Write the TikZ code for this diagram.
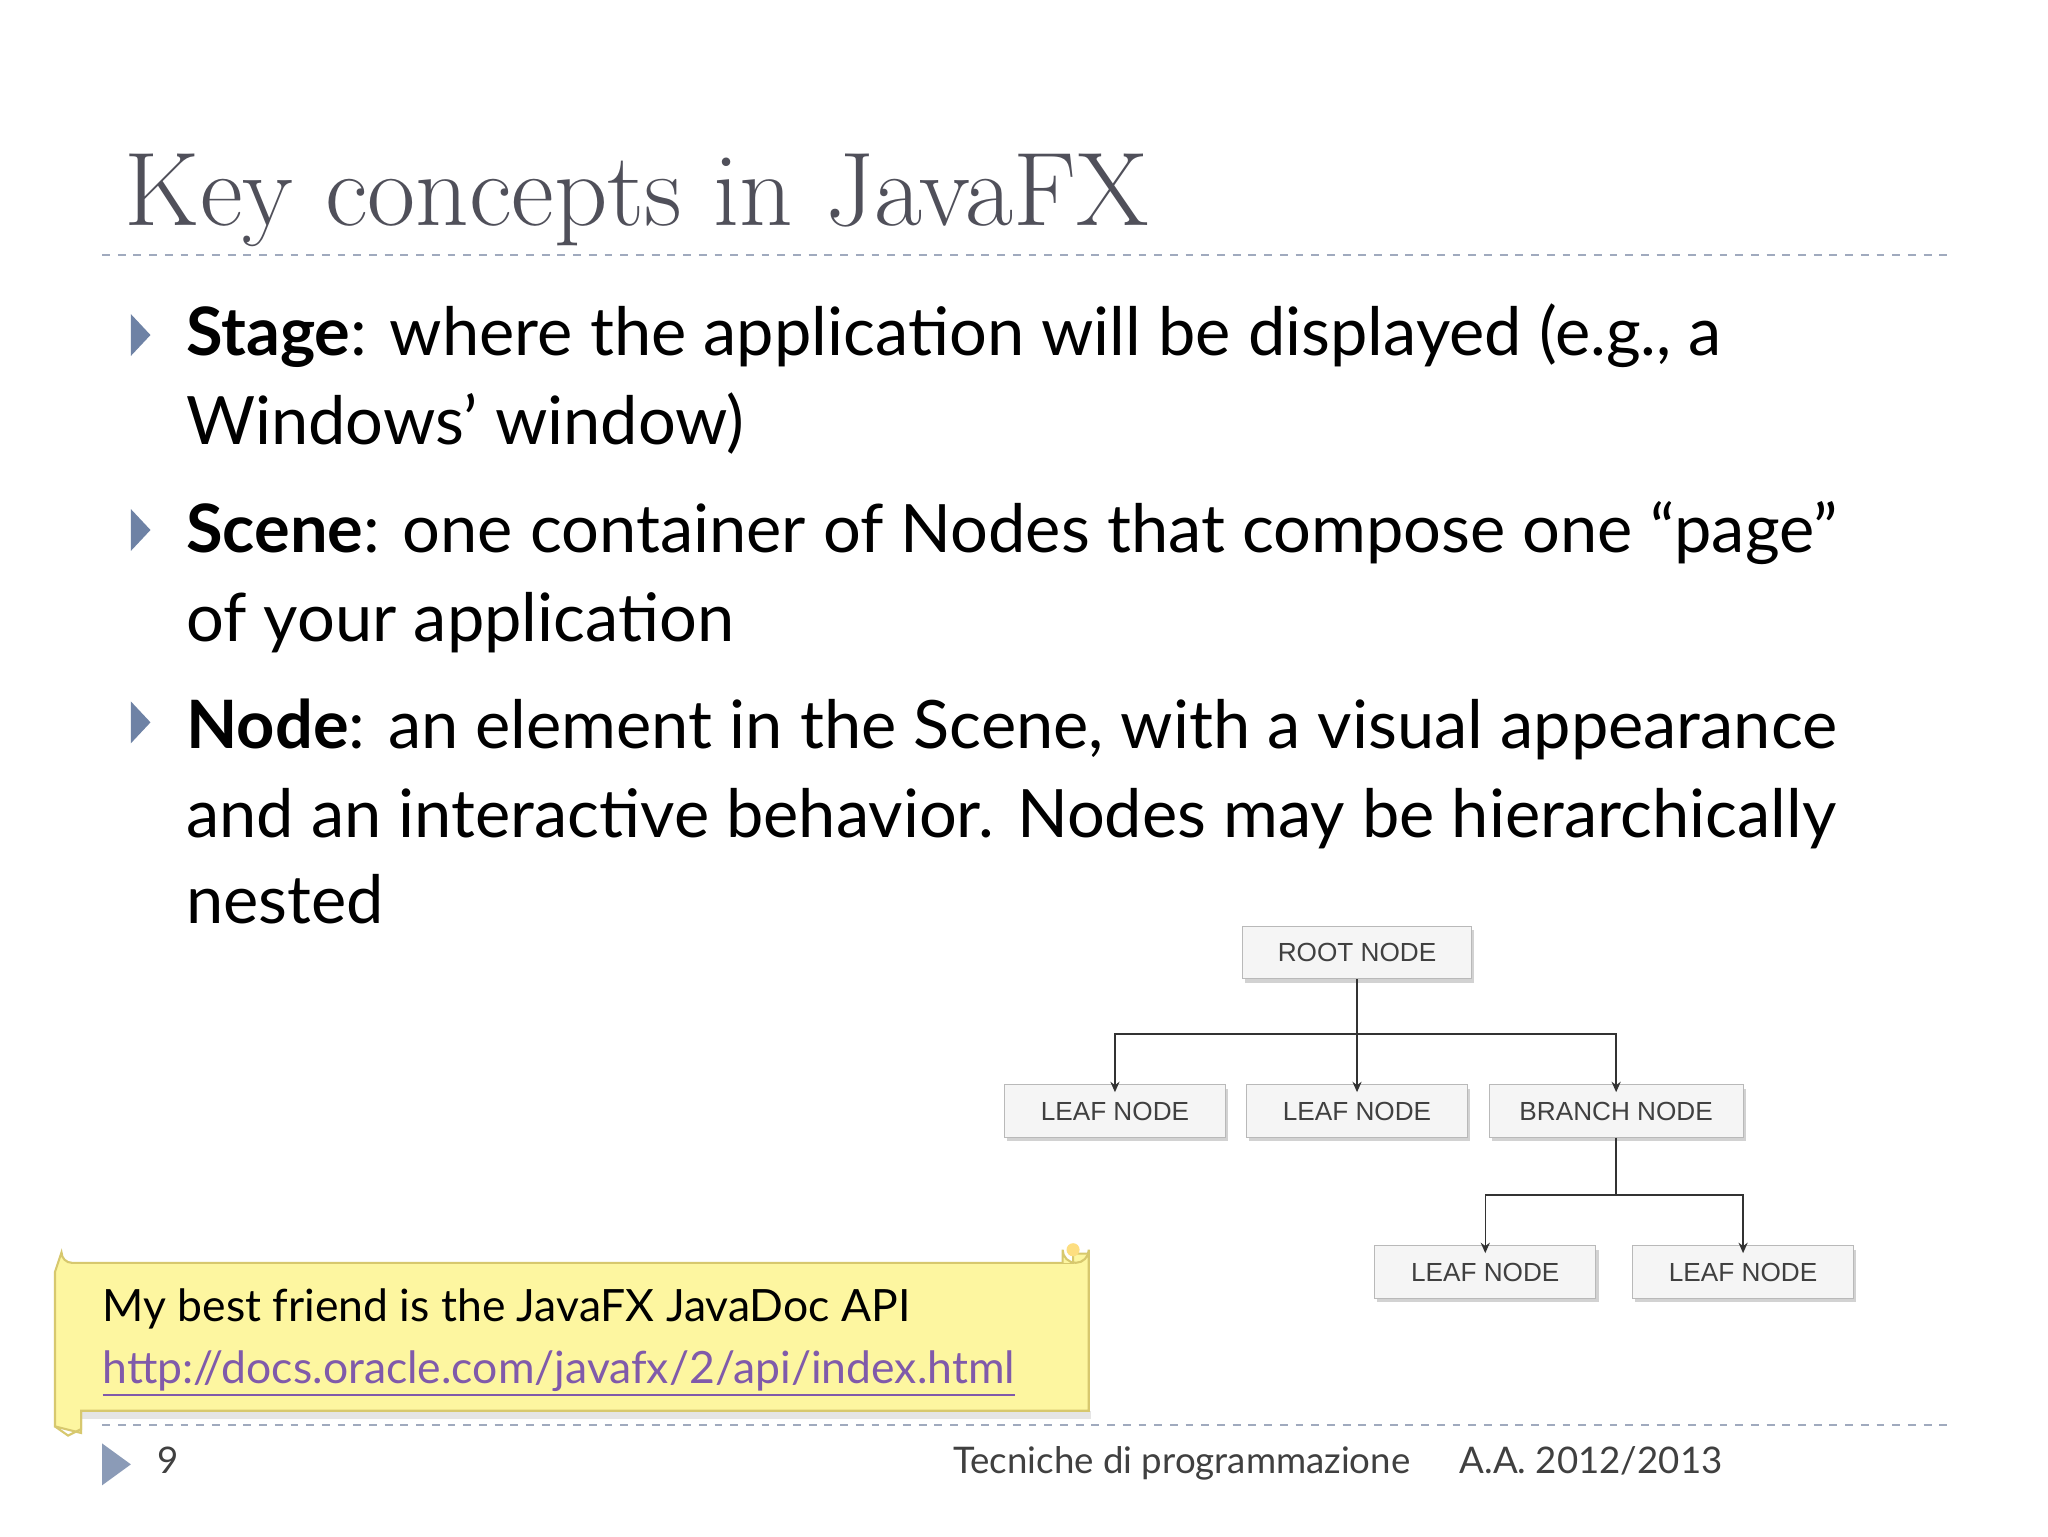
\documentclass[tikz,border=0pt]{standalone}
\usepackage{fontspec}
\setmainfont{Lato}
\newfontfamily\titlefont{Latin Modern Roman}
\newfontfamily\boxfont{Liberation Sans}
\usetikzlibrary{arrows.meta,shadows}
\definecolor{titlegray}{RGB}{80,80,90}
\definecolor{bullet}{RGB}{110,130,165}
\definecolor{dashc}{RGB}{160,170,190}
\definecolor{note}{RGB}{253,246,160}
\definecolor{noteedge}{RGB}{215,200,110}
\definecolor{link}{RGB}{128,90,170}
\begin{document}
\begin{tikzpicture}[x=0.5pt,y=-0.5pt,
  tnode/.style={draw=gray!55,fill=gray!8,minimum width=#1*0.5pt,minimum height=20pt,font=\boxfont\fontsize{10}{12}\selectfont,text=black!75,drop shadow={shadow xshift=1pt,shadow yshift=-1.5pt,fill=gray!50,opacity=0.7}},
  arr/.style={-{Stealth[length=4pt,width=3.5pt]},black!80,line width=0.6pt},
  ln/.style={black!80,line width=0.6pt},
  body/.style={anchor=base west,font=\fontsize{25.5}{30}\selectfont,inner sep=0},
  btri/.style={fill=bullet}]
\useasboundingbox (0,0) rectangle (1565,1174);
\fill[white] (0,0) rectangle (1565,1174);
% title
\node[anchor=base west,inner sep=0,font=\titlefont\fontsize{40}{46}\selectfont,text=titlegray] (title) at (95,172) {Key concepts in JavaFX};
\draw[dashc,dashed,line width=0.7pt] (78,195) -- (1490,195);
% bullets
\foreach \y in {256,405,552} \fill[btri] (100,\y-16) -- (115,\y) -- (100,\y+16) -- cycle;
\node[body] (l1) at (142,272) {\textbf{Stage}: where the application will be displayed (e.g., a};
\node[body] (l2) at (142,340) {Windows’ window)};
\node[body] (l3) at (142,422) {\textbf{Scene}: one container of Nodes that compose one “page”};
\node[body] (l4) at (142,490) {of your application};
\node[body] (l5) at (142,572) {\textbf{Node}: an element in the Scene, with a visual appearance};
\node[body] (l6) at (142,640) {and an interactive behavior. Nodes may be hierarchically};
\node[body] (l7) at (142,706) {nested};
% tree
\node[tnode=175] (root) at (1037,728) {ROOT NODE};
\node[tnode=169] (lf1) at (852,849) {LEAF NODE};
\node[tnode=169] (lf2) at (1037,849) {LEAF NODE};
\node[tnode=194] (br) at (1235,849) {BRANCH NODE};
\node[tnode=169] (lf3) at (1135,972) {LEAF NODE};
\node[tnode=169] (lf4) at (1332,972) {LEAF NODE};
\coordinate (j1) at (1037,790);
\coordinate (j2) at (1235,913);
\draw[ln] (root.south) -- (j1);
\draw[arr] (j1) -| ([yshift=-3pt]lf1.north);
\draw[arr] (j1) -- ([yshift=-3pt]lf2.north);
\draw[arr] (j1) -| ([yshift=-3pt]br.north);
\draw[ln] (br.south) -- (j2);
\draw[arr] (j2) -| ([yshift=-3pt]lf3.north);
\draw[arr] (j2) -| ([yshift=-3pt]lf4.north);
% note
\fill[gray!40,opacity=0.5] (46,1078) rectangle (834,1084);
\fill[note,draw=noteedge,line width=0.8pt] (42,972) -- (42,1090) -- (62,1095) -- (62,1078) -- (832,1078) -- (832,958) -- (820,958) -- (820,965) -- (55,965) arc (90:180:8) -- cycle;
\fill[note,draw=noteedge,line width=0.8pt] (812,965) -- (812,955) arc (180:0:10) -- (832,965);
\draw[noteedge,line width=0.8pt] (42,1090) -- (52,1097) -- (62,1092) -- (62,1078);
\fill[note!80!orange] (820,955) circle (5);
\node[anchor=base west,inner sep=0,font=\fontsize{17}{20}\selectfont] (n1) at (78,1010) {My best friend is the JavaFX JavaDoc API};
\node[anchor=base west,inner sep=0,font=\fontsize{17}{20}\selectfont,text=link] (n2) at (78,1057) {\underline{http://docs.oracle.com/javafx/2/api/index.html}};
% footer
\draw[dashc,dashed,line width=0.7pt] (78,1089) -- (1490,1089);
\fill[bullet!80] (78,1103) -- (100,1119) -- (78,1135) -- cycle;
\node[anchor=base west,inner sep=0,font=\fontsize{14}{16}\selectfont,text=black!75] (pg) at (120,1126) {9};
\node[anchor=base west,inner sep=0,font=\fontsize{14}{16}\selectfont,text=black!75] (ft) at (728,1126) {Tecniche di programmazione};
\node[anchor=base west,inner sep=0,font=\fontsize{14}{16}\selectfont,text=black!75] (aa) at (1115,1126) {A.A. 2012/2013};
\end{tikzpicture}
\end{document}
